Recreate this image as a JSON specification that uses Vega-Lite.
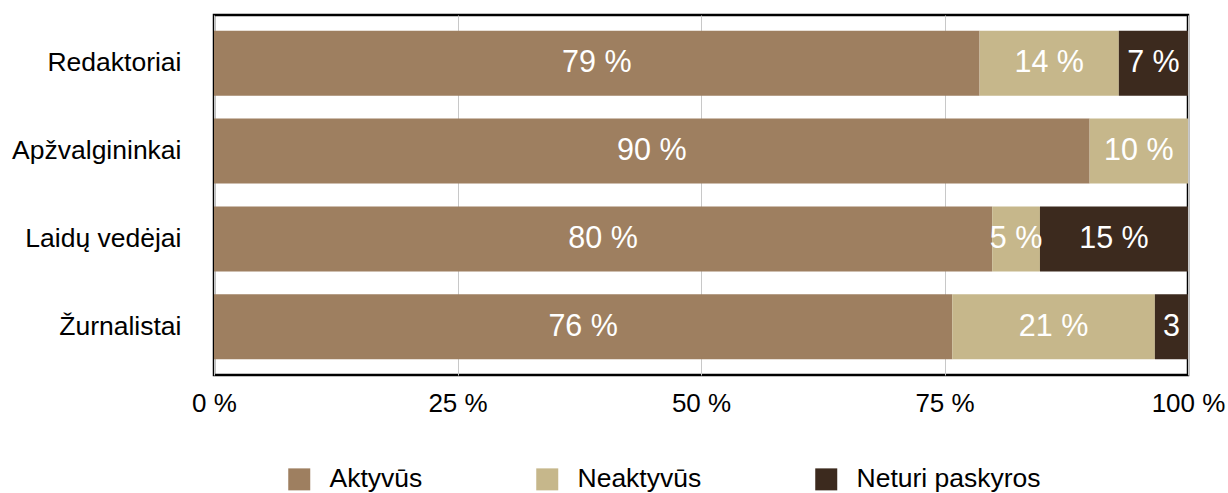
{
  "$schema": "https://vega.github.io/schema/vega-lite/v6.json",
  "width": 974,
  "height": 360,
  "autosize": {"type": "none"},
  "padding": {"left": 214, "top": 15, "right": 40, "bottom": 118},
  "background": "white",
  "config": {
    "font": "Liberation Sans",
    "view": {"stroke": "black", "strokeWidth": 2.5}
  },
  "data": {
    "values": [
      {"grupe": "Redaktoriai", "busena": "Aktyvūs", "k": 1, "proc": 78.6, "label": "79 %"},
      {"grupe": "Redaktoriai", "busena": "Neaktyvūs", "k": 2, "proc": 14.3, "label": "14 %"},
      {"grupe": "Redaktoriai", "busena": "Neturi paskyros", "k": 3, "proc": 7.1, "label": "7 %"},
      {"grupe": "Apžvalgininkai", "busena": "Aktyvūs", "k": 1, "proc": 89.9, "label": "90 %"},
      {"grupe": "Apžvalgininkai", "busena": "Neaktyvūs", "k": 2, "proc": 10.1, "label": "10 %"},
      {"grupe": "Laidų vedėjai", "busena": "Aktyvūs", "k": 1, "proc": 79.9, "label": "80 %"},
      {"grupe": "Laidų vedėjai", "busena": "Neaktyvūs", "k": 2, "proc": 4.9, "label": "5 %"},
      {"grupe": "Laidų vedėjai", "busena": "Neturi paskyros", "k": 3, "proc": 15.2, "label": "15 %"},
      {"grupe": "Žurnalistai", "busena": "Aktyvūs", "k": 1, "proc": 75.8, "label": "76 %"},
      {"grupe": "Žurnalistai", "busena": "Neaktyvūs", "k": 2, "proc": 20.8, "label": "21 %"},
      {"grupe": "Žurnalistai", "busena": "Neturi paskyros", "k": 3, "proc": 3.4, "label": "3"}
    ]
  },
  "encoding": {
    "y": {
      "field": "grupe",
      "type": "nominal",
      "sort": ["Redaktoriai", "Apžvalgininkai", "Laidų vedėjai", "Žurnalistai"],
      "scale": {"paddingInner": 0.26, "paddingOuter": 0.18},
      "axis": {
        "title": null,
        "domain": false,
        "ticks": false,
        "tickSize": 0,
        "labelPadding": 33,
        "labelFontSize": 26.5,
        "labelColor": "black",
        "labelFont": "Liberation Sans",
        "labelLimit": 0
      }
    }
  },
  "layer": [
    {
      "mark": {"type": "bar"},
      "encoding": {
        "x": {
          "field": "proc",
          "type": "quantitative",
          "stack": "zero",
          "scale": {"domain": [0, 100], "nice": false},
          "axis": {
            "title": null,
            "values": [0, 25, 50, 75, 100],
            "labelExpr": "datum.value + ' %'",
            "labelFlush": false,
            "labelOverlap": false,
            "domain": false,
            "ticks": false,
            "tickSize": 0,
            "labelPadding": 15,
            "labelFontSize": 26,
            "labelColor": "black",
            "labelFont": "Liberation Sans",
            "grid": true,
            "gridColor": "#c8c8c8",
            "gridWidth": 1
          }
        },
        "color": {
          "field": "busena",
          "type": "nominal",
          "scale": {
            "domain": ["Aktyvūs", "Neaktyvūs", "Neturi paskyros"],
            "range": ["#9e7f60", "#c6b78b", "#3c2a1e"]
          },
          "legend": {
            "title": null,
            "orient": "none",
            "direction": "horizontal",
            "legendX": 72,
            "legendY": 451,
            "symbolType": "square",
            "symbolSize": 484,
            "symbolStrokeWidth": 0,
            "symbolOpacity": 1,
            "labelFontSize": 26.5,
            "labelColor": "black",
            "labelFont": "Liberation Sans",
            "labelOffset": 17,
            "labelLimit": 0,
            "columnPadding": 111
          }
        },
        "order": {"field": "k", "type": "quantitative"}
      }
    },
    {
      "mark": {"type": "text", "color": "white", "fontSize": 30.5, "font": "Liberation Sans", "align": "center", "baseline": "middle"},
      "encoding": {
        "x": {"field": "proc", "type": "quantitative", "stack": "zero", "bandPosition": 0.5},
        "detail": {"field": "busena", "type": "nominal"},
        "order": {"field": "k", "type": "quantitative"},
        "text": {"field": "label", "type": "nominal"}
      }
    }
  ]
}
